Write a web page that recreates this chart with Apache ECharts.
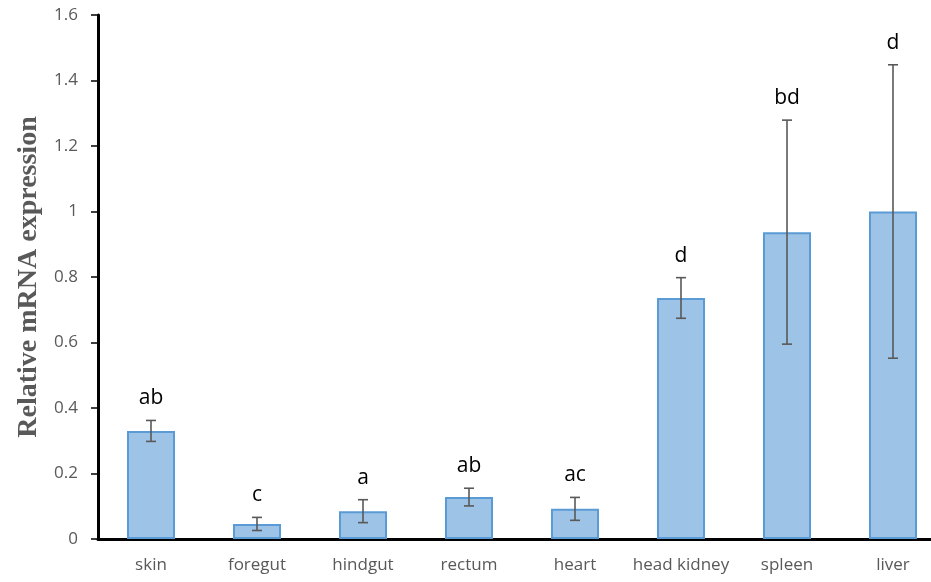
<!DOCTYPE html>
<html>
<head>
<meta charset="utf-8">
<script src="https://cdn.jsdelivr.net/npm/echarts@6/dist/echarts.min.js"></script>
<style>
  html, body { margin: 0; padding: 0; background: #fff; overflow: hidden; width: 931px; height: 582px; }
  /* the canvas is a little wider than the page so the last category runs off the right edge */
  #chart { width: 946px; height: 582px; }
</style>
</head>
<body>
<div id="chart"></div>
<script>
// Tissue expression with standard deviations and significance letters
const tissues = ['skin', 'foregut', 'hindgut', 'rectum', 'heart', 'head kidney', 'spleen', 'liver'];
const meanExpr = [0.33, 0.046, 0.085, 0.128, 0.092, 0.736, 0.937, 1.0];
const errExpr = [0.032, 0.02, 0.035, 0.027, 0.035, 0.062, 0.342, 0.448];
const sigLetters = ['ab', 'c', 'a', 'ab', 'ac', 'd', 'bd', 'd'];
const yTicks = { min: 0, max: 1.6, step: 0.2 };

const chart = echarts.init(document.getElementById('chart'), null, { renderer: 'canvas' });

const errData = tissues.map((t, i) => [i, meanExpr[i] - errExpr[i], meanExpr[i] + errExpr[i], sigLetters[i]]);

chart.setOption({
  animation: false,
  backgroundColor: '#ffffff',
  grid: { left: 98, right: 0, top: 15, bottom: 43 },
  xAxis: {
    type: 'category',
    data: tissues,
    axisLine: { lineStyle: { color: '#000', width: 3 } },
    axisTick: { show: false },
    axisLabel: { interval: 0, color: '#595959', fontSize: 17, fontFamily: 'Open Sans, sans-serif', margin: 18 }
  },
  yAxis: {
    type: 'value',
    min: yTicks.min,
    max: yTicks.max,
    interval: yTicks.step,
    name: 'Relative mRNA expression',
    nameLocation: 'middle',
    nameGap: 48,
    nameTextStyle: { color: '#595959', fontSize: 28, fontWeight: 'bold', fontFamily: 'Liberation Serif, Times New Roman, serif' },
    axisLine: { show: true, lineStyle: { color: '#000', width: 3 } },
    axisTick: { show: true, inside: false, length: 7, lineStyle: { color: '#000', width: 1.5 } },
    axisLabel: { color: '#595959', fontSize: 17, fontFamily: 'Open Sans, sans-serif', margin: 20 },
    splitLine: { show: false }
  },
  series: [
    {
      type: 'bar',
      data: meanExpr,
      barWidth: 48,
      itemStyle: { color: '#9dc3e6', borderColor: '#5b9bd5', borderWidth: 2 }
    },
    {
      type: 'custom',
      data: errData,
      z: 10,
      clip: false,
      renderItem: function (params, api) {
        const x = api.value(0);
        const lo = api.coord([x, api.value(1)]);
        const hi = api.coord([x, api.value(2)]);
        const cap = 5;
        const style = { stroke: '#595959', lineWidth: 1.6 };
        return {
          type: 'group',
          children: [
            { type: 'line', shape: { x1: lo[0], y1: lo[1], x2: hi[0], y2: hi[1] }, style: style },
            { type: 'line', shape: { x1: hi[0] - cap, y1: hi[1], x2: hi[0] + cap, y2: hi[1] }, style: style },
            { type: 'line', shape: { x1: lo[0] - cap, y1: lo[1], x2: lo[0] + cap, y2: lo[1] }, style: style },
            {
              type: 'text',
              x: hi[0],
              y: hi[1] - 22,
              style: {
                text: api.value(3),
                fill: '#000',
                fontSize: 21,
                fontFamily: 'Open Sans, sans-serif',
                align: 'center',
                verticalAlign: 'middle'
              }
            }
          ]
        };
      }
    }
  ]
});
</script>
</body>
</html>
